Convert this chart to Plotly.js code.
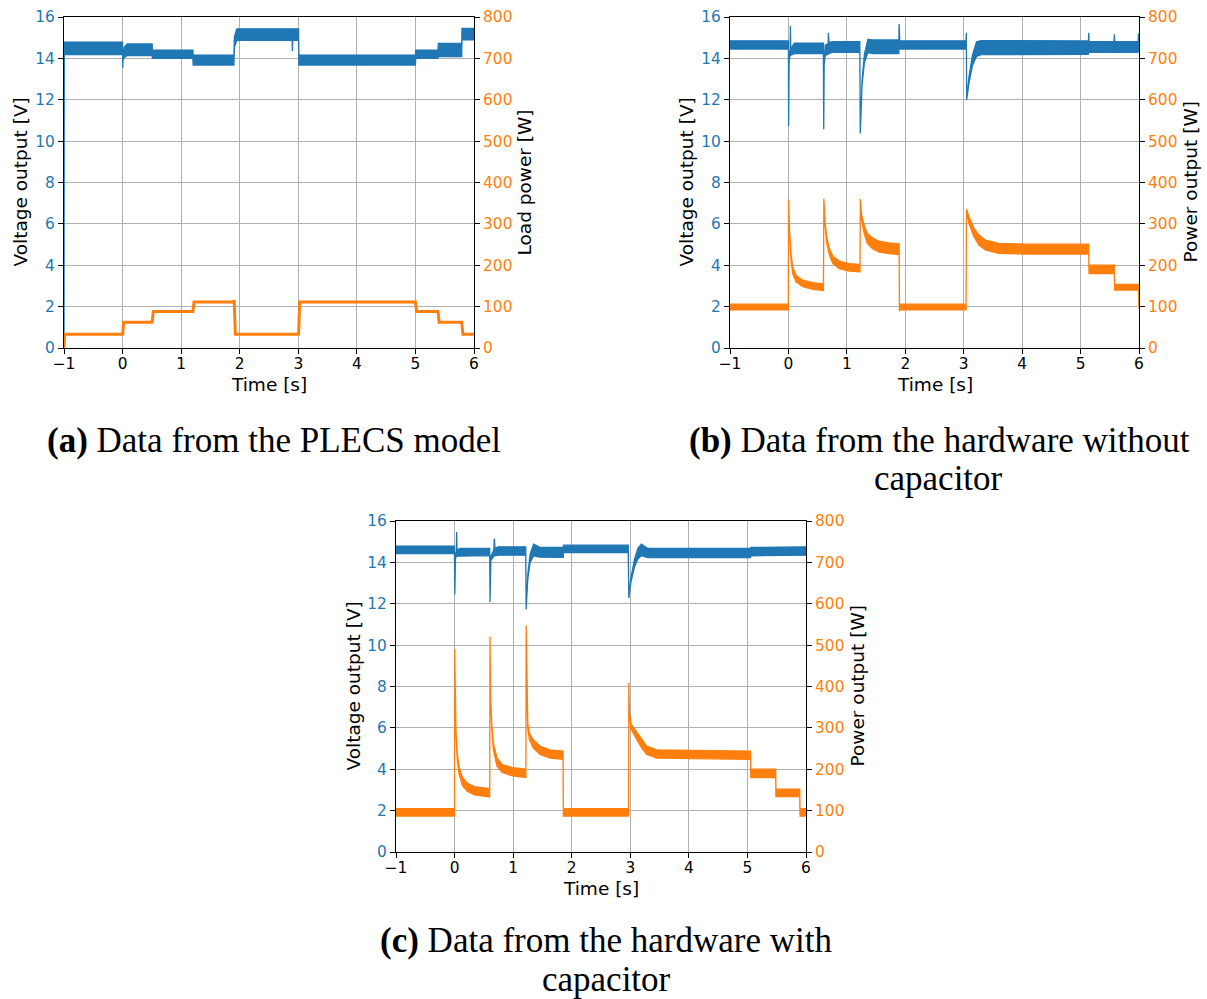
<!DOCTYPE html>
<html>
<head>
<meta charset="utf-8">
<script src="https://cdn.plot.ly/plotly-3.0.1.min.js"></script>
<style>
  html, body { margin: 0; padding: 0; background: #ffffff; }
  #chart { width: 1207px; height: 999px; }
</style>
</head>
<body>
<div id="chart"></div>
<script>
// ---- shared tick values ----
const timeTicks = [-1, 0, 1, 2, 3, 4, 5, 6];
const voltTicks = [0, 2, 4, 6, 8, 10, 12, 14, 16];
const powerTicks = [0, 100, 200, 300, 400, 500, 600, 700, 800];

// ---- (a) PLECS model ----
const tA_volt = [-1.0, -0.995, 0.0, 0.003, 0.006, 0.03, 0.08, 0.505, 0.51, 1.2, 1.205, 1.9, 1.91, 1.95, 2.895, 2.9, 2.905, 3.005, 3.01, 5.0, 5.005, 5.385, 5.39, 5.79, 5.795, 6.0];
const vA =       [0, 14.48, 14.48, 13.57, 14.0, 14.3, 14.42, 14.42, 14.2, 14.2, 13.92, 13.92, 14.8, 15.15, 15.15, 14.4, 15.15, 15.15, 13.92, 13.92, 14.2, 14.2, 14.4, 14.4, 15.17, 15.17];
const vA_band =  [0, 0.3, 0.3, 0.02, 0.1, 0.25, 0.28, 0.28, 0.2, 0.2, 0.24, 0.24, 0.25, 0.28, 0.28, 0.05, 0.28, 0.28, 0.24, 0.24, 0.2, 0.2, 0.32, 0.32, 0.28, 0.28];

const tA_pow = [-1.0, -0.99, 0.0, 0.02, 0.505, 0.525, 1.2, 1.22, 1.9, 1.905, 1.925, 3.005, 3.025, 5.0, 5.02, 5.385, 5.405, 5.79, 5.81, 6.0];
const pA =     [0, 33, 33, 62, 62, 88, 88, 111, 111, 116, 33, 33, 111, 111, 88, 88, 62, 62, 33, 33];

// ---- (b) hardware without capacitor ----
const tB_volt = [-1.0, 0.0, 0.003, 0.012, 0.03, 0.034, 0.04, 0.1, 0.598, 0.604, 0.612, 0.63, 0.68, 0.684, 0.695, 0.75, 1.222, 1.229, 1.26, 1.30, 1.36, 1.45, 1.89, 1.895, 1.905, 1.95, 3.04, 3.045, 3.05, 3.09, 3.15, 3.22, 3.3, 5.135, 5.14, 5.145, 5.573, 5.578, 5.583, 5.985, 5.99, 6.0];
const vB =      [14.65, 14.65, 10.73, 14.0, 14.3, 15.56, 14.3, 14.48, 14.48, 10.57, 13.8, 14.4, 14.45, 15.24, 14.5, 14.55, 14.55, 10.37, 12.8, 14.0, 14.6, 14.56, 14.56, 15.66, 14.65, 14.65, 14.65, 15.24, 11.99, 12.95, 13.92, 14.45, 14.52, 14.52, 15.24, 14.55, 14.55, 15.17, 14.55, 14.55, 15.2, 14.6];
const vB_band = [0.2, 0.2, 0, 0.1, 0.15, 0, 0.15, 0.25, 0.25, 0, 0.1, 0.25, 0.25, 0, 0.26, 0.26, 0.26, 0, 0.1, 0.2, 0.32, 0.33, 0.33, 0, 0.2, 0.2, 0.2, 0, 0, 0.15, 0.25, 0.35, 0.34, 0.32, 0, 0.26, 0.26, 0, 0.26, 0.26, 0, 0.25];

const tB_pow = [-1.0, -0.002, 0.002, 0.017, 0.045, 0.074, 0.13, 0.245, 0.415, 0.6, 0.606, 0.627, 0.655, 0.70, 0.76, 0.87, 1.04, 1.225, 1.231, 1.25, 1.30, 1.35, 1.44, 1.55, 1.72, 1.895, 1.9, 1.91, 3.04, 3.047, 3.09, 3.17, 3.26, 3.37, 3.6, 4.06, 5.14, 5.145, 5.578, 5.583, 5.99, 6.0];
const pB =     [99, 99, 357, 285, 220, 188, 168, 156, 150, 147, 359, 301, 261, 233, 213, 201, 195, 193, 358, 317, 285, 265, 253, 245, 241, 239, 92, 99, 99, 333, 309, 281, 261, 249, 241, 239, 239, 190, 190, 147, 147, 97];
const pB_band = [7, 7, 2, 5, 7, 8, 8, 8, 8, 8, 2, 5, 7, 8, 9, 9, 9, 9, 2, 6, 10, 12, 13, 13, 13, 13, 3, 7, 7, 3, 8, 10, 12, 12, 12, 12, 12, 10, 10, 7, 7, 3];

// ---- (c) hardware with capacitor ----
const tC_volt = [-1.0, -0.002, 0.004, 0.015, 0.03, 0.035, 0.042, 0.1, 0.6, 0.605, 0.62, 0.67, 0.68, 0.69, 0.75, 1.215, 1.222, 1.25, 1.29, 1.35, 1.45, 1.855, 1.86, 2.965, 2.975, 3.01, 3.07, 3.13, 3.19, 3.3, 5.05, 5.06, 6.0];
const vC =      [14.6, 14.6, 12.45, 14.3, 14.4, 15.47, 14.45, 14.5, 14.5, 12.09, 14.2, 14.45, 15.15, 14.5, 14.55, 14.55, 11.72, 13.3, 14.2, 14.6, 14.5, 14.48, 14.65, 14.65, 12.3, 13.14, 13.95, 14.43, 14.6, 14.45, 14.45, 14.52, 14.55];
const vC_band = [0.18, 0.18, 0, 0.1, 0.12, 0, 0.15, 0.17, 0.17, 0, 0.1, 0.15, 0, 0.18, 0.2, 0.2, 0, 0.1, 0.2, 0.28, 0.24, 0.24, 0.18, 0.18, 0.02, 0.1, 0.18, 0.25, 0.28, 0.22, 0.22, 0.2, 0.2];

const tC_pow = [-1.0, -0.002, 0.002, 0.012, 0.024, 0.047, 0.076, 0.135, 0.22, 0.34, 0.6, 0.605, 0.617, 0.635, 0.664, 0.723, 0.81, 0.987, 1.218, 1.222, 1.234, 1.25, 1.28, 1.34, 1.457, 1.633, 1.852, 1.857, 2.97, 2.975, 2.985, 3.014, 3.102, 3.19, 3.28, 3.455, 5.053, 5.058, 5.482, 5.487, 5.893, 5.898, 6.0];
const pC =     [96, 96, 488, 367, 287, 230, 198, 170, 156, 148, 143, 518, 367, 303, 254, 218, 202, 194, 190, 546, 399, 303, 279, 262, 246, 237, 234, 96, 96, 407, 335, 303, 283, 262, 246, 237, 234, 190, 190, 143, 143, 96, 96];
const pC_band = [9, 9, 2, 4, 6, 8, 9, 10, 10, 10, 10, 2, 4, 6, 8, 10, 10, 10, 10, 2, 4, 6, 8, 10, 10, 10, 10, 9, 9, 2, 4, 6, 9, 10, 10, 10, 10, 10, 10, 9, 9, 9, 9];

const BLUE = '#1f77b4';
const ORANGE = '#ff7f0e';
const FONT = 'DejaVu Sans';
const W = 1207, H = 999;

// Filled band (measurement noise envelope) around a centre trace
function band(t, mid, spread, color, xa, ya) {
  const up = mid.map((v, i) => v + spread[i]);
  const lo = mid.map((v, i) => v - spread[i]);
  return {
    x: t.concat(t.slice().reverse()),
    y: up.concat(lo.slice().reverse()),
    xaxis: xa, yaxis: ya,
    type: 'scatter', mode: 'lines', fill: 'toself',
    fillcolor: color, line: { color: color, width: 1.3 },
    hoverinfo: 'skip', showlegend: false
  };
}
function line(t, y, color, width, xa, ya) {
  return { x: t, y: y, xaxis: xa, yaxis: ya, type: 'scatter', mode: 'lines',
           line: { color: color, width: width }, hoverinfo: 'skip', showlegend: false };
}

const traces = [
  band(tA_volt, vA, vA_band, BLUE, 'x', 'y'),
  line(tA_pow, pA, ORANGE, 3, 'x', 'y2'),
  band(tB_volt, vB, vB_band, BLUE, 'x2', 'y3'),
  band(tB_pow, pB, pB_band, ORANGE, 'x2', 'y4'),
  band(tC_volt, vC, vC_band, BLUE, 'x3', 'y5'),
  band(tC_pow, pC, pC_band, ORANGE, 'x3', 'y6')
];

// panel boxes in pixels: [left, right, top, bottom]
const boxes = [[64, 474, 17, 348], [730, 1139, 17, 348], [396, 806, 521, 852]];
const dx = b => [b[0] / W, b[1] / W];
const dy = b => [1 - b[3] / H, 1 - b[2] / H];

function xAxis(b, anchor) {
  return {
    domain: dx(b), anchor: anchor, range: [-1, 6], tickvals: timeTicks,
    showgrid: true, gridcolor: '#b0b0b0', gridwidth: 1, zeroline: false,
    showline: true, linecolor: '#000', linewidth: 1, mirror: true,
    ticks: 'outside', ticklen: 5, tickwidth: 1, tickcolor: '#000',
    ticklabelstandoff: -3,
    tickfont: { family: FONT, size: 15.4, color: '#000' }
  };
}
function yLeft(b, anchor) {
  return {
    domain: dy(b), anchor: anchor, range: [0, 16], tickvals: voltTicks,
    showgrid: true, gridcolor: '#b0b0b0', gridwidth: 1, zeroline: false,
    showline: true, linecolor: '#000', linewidth: 1,
    ticks: 'outside', ticklen: 5, tickwidth: 1, tickcolor: '#000',
    tickfont: { family: FONT, size: 15.4, color: BLUE }
  };
}
function yRight(over, anchor) {
  return {
    overlaying: over, anchor: anchor, side: 'right', range: [0, 800], tickvals: powerTicks,
    showgrid: false, zeroline: false,
    showline: true, linecolor: '#000', linewidth: 1,
    ticks: 'outside', ticklen: 5, tickwidth: 1, tickcolor: '#000',
    tickfont: { family: FONT, size: 15.4, color: ORANGE }
  };
}

function txt(text, px, py, opts) {
  return Object.assign({
    text: text, xref: 'paper', yref: 'paper', x: px / W, y: 1 - py / H,
    xanchor: 'center', yanchor: 'middle', showarrow: false,
    font: { family: FONT, size: 18.5, color: '#000' }
  }, opts || {});
}
const capFont = { family: 'Liberation Serif', size: 35, color: '#000' };

const annotations = [
  // axis titles
  txt('Voltage output [V]', 20, 182.5, { textangle: -90 }),
  txt('Load power [W]', 524, 182.5, { textangle: -90 }),
  txt('Time [s]', 269, 384),
  txt('Voltage output [V]', 686, 182.5, { textangle: -90 }),
  txt('Power output [W]', 1190, 182.5, { textangle: -90 }),
  txt('Time [s]', 934.5, 384),
  txt('Voltage output [V]', 353, 686.5, { textangle: -90 }),
  txt('Power output [W]', 857, 686.5, { textangle: -90 }),
  txt('Time [s]', 601, 888),
  // sub-figure captions
  txt('<b>(a)</b> Data from the PLECS model', 274, 440, { font: capFont }),
  txt('<b>(b)</b> Data from the hardware without', 939, 440, { font: capFont }),
  txt('capacitor', 938, 479, { font: capFont }),
  txt('<b>(c)</b> Data from the hardware with', 606, 940, { font: capFont }),
  txt('capacitor', 606, 979, { font: capFont })
];

const layout = {
  width: W, height: H, autosize: false,
  margin: { l: 0, r: 0, t: 0, b: 0, pad: 0 },
  paper_bgcolor: '#ffffff', plot_bgcolor: '#ffffff',
  showlegend: false,
  xaxis: xAxis(boxes[0], 'y'),
  yaxis: yLeft(boxes[0], 'x'),
  yaxis2: yRight('y', 'x'),
  xaxis2: xAxis(boxes[1], 'y3'),
  yaxis3: yLeft(boxes[1], 'x2'),
  yaxis4: yRight('y3', 'x2'),
  xaxis3: xAxis(boxes[2], 'y5'),
  yaxis5: yLeft(boxes[2], 'x3'),
  yaxis6: yRight('y5', 'x3'),
  annotations: annotations
};

Plotly.newPlot('chart', traces, layout, { staticPlot: true, displayModeBar: false });
</script>
</body>
</html>
